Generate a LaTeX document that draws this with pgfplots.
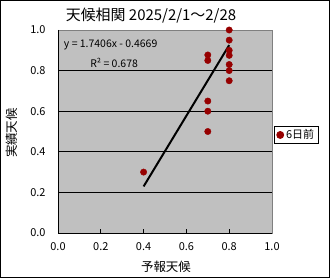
\documentclass[border=0pt]{standalone}
\usepackage{fontspec}
\setmainfont{Noto Sans CJK JP}
\usepackage{pgfplots}
\pgfplotsset{compat=1.18}
\definecolor{plotgray}{RGB}{192,192,192}
\definecolor{borderg}{RGB}{128,128,128}
\definecolor{dred}{RGB}{150,0,0}
\begin{document}
\begin{tikzpicture}[x=1bp,y=1bp]
\useasboundingbox (0,0) rectangle (330,278);
\draw[black, line width=1bp] (0.5,0.5) rectangle (329.5,277.5);
\begin{axis}[
  at={(58bp,45bp)}, anchor=south west,
  scale only axis, width=214bp, height=203bp,
  xmin=0, xmax=1, ymin=0, ymax=1,
  xtick={0,0.2,0.4,0.6,0.8,1.0}, ytick={0,0.2,0.4,0.6,0.8,1.0},
  xticklabels={0.0,0.2,0.4,0.6,0.8,1.0},
  yticklabels={0.0,0.2,0.4,0.6,0.8,1.0},
  ticklabel style={font=\fontsize{11}{12}\selectfont},
  xticklabel style={yshift=-6bp},
  yticklabel style={xshift=-9bp},
  tick align=inside, xtick pos=bottom, ytick pos=left,
  major tick length=4bp,
  ytick style={draw=none},
  xtick style={black, line width=0.8bp},
  ymajorgrids, grid style={black, line width=0.8bp},
  axis line style={borderg, line width=0.8bp},
  axis background/.style={fill=plotgray},
  legend style={at={(1.009,0.483)}, anchor=west, draw=black, line width=0.8bp,
    font=\fontsize{11}{12}\selectfont, inner xsep=2bp, inner ysep=1bp},
  legend cell align=left,
  clip=false,
]
\addplot[only marks, mark=*, mark size=3.2bp, mark options={fill=dred, draw=dred},
  legend image code/.code={\fill[dred] (0bp,0bp) circle (3.5bp);}]
coordinates {
(0.4,0.3)
(0.7,0.877) (0.7,0.85) (0.7,0.65) (0.7,0.6) (0.7,0.5)
(0.8,1.0) (0.8,0.95) (0.8,0.9) (0.8,0.875) (0.8,0.83) (0.8,0.8) (0.8,0.75)
};
\addlegendentry{6日前}
\addplot[black, line width=2bp, forget plot] coordinates {(0.4,0.2293) (0.8,0.9256)};
\draw[black, line width=0.8bp] (rel axis cs:0,1) -- (rel axis cs:0,0) -- (rel axis cs:1,0);
\node[anchor=west, font=\fontsize{10.5}{11}\selectfont, inner sep=0pt] at (rel axis cs:0.027,0.925) {y = 1.7406x - 0.4669};
\node[anchor=west, font=\fontsize{10.5}{11}\selectfont, inner sep=0pt] at (rel axis cs:0.15,0.84) {R² = 0.678};
\end{axis}
\node[font=\fontsize{15}{16}\selectfont, inner sep=0pt] at (151,262) {天候相関 2025/2/1～2/28};
\node[font=\fontsize{12.5}{13}\selectfont, inner sep=0pt, rotate=90] at (12,145) {実績天候};
\node[font=\fontsize{12.5}{13}\selectfont, inner sep=0pt] at (166,11) {予報天候};
\end{tikzpicture}
\end{document}
